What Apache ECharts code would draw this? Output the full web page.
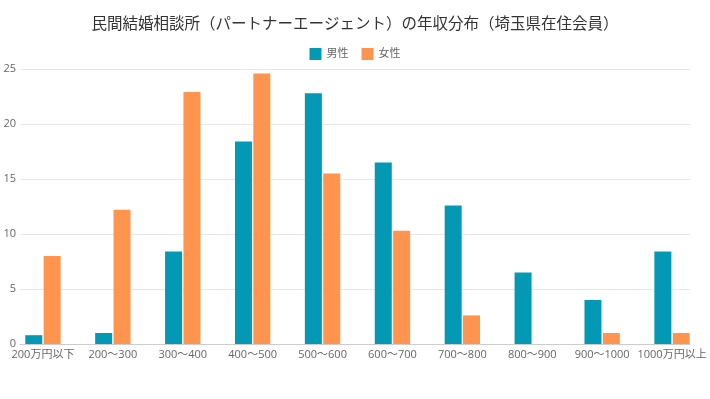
<!DOCTYPE html>
<html>
<head>
<meta charset="utf-8">
<script src="https://cdn.jsdelivr.net/npm/echarts@6/dist/echarts.min.js"></script>
<style>
  html, body { margin: 0; padding: 0; background: #fff; }
  #chart { width: 710px; height: 399px; }
</style>
</head>
<body>
<div id="chart"></div>
<script>
const categories = ["200万円以下", "200〜300", "300〜400", "400〜500", "500〜600", "600〜700", "700〜800", "800〜900", "900〜1000", "1000万円以上"];
const maleValues = [0.8, 1.0, 8.4, 18.4, 22.8, 16.5, 12.6, 6.5, 4.0, 8.4];
const femaleValues = [8.0, 12.2, 22.9, 24.6, 15.5, 10.3, 2.6, 0, 1.0, 1.0];
const yTicks = [0, 5, 10, 15, 20, 25];

const fontFamily = '"Open Sans", "Noto Sans CJK JP", sans-serif';

var myChart = echarts.init(document.getElementById("chart"));
// grid 0 carries the gridlines / y labels / baseline, grid 1 carries the bars
// (the bars in the original sit a bit wider than the gridlines)
var option = {
  textStyle: { fontFamily: fontFamily },
  title: {
    text: "民間結婚相談所（パートナーエージェント）の年収分布（埼玉県在住会員）",
    left: "center",
    top: 12,
    textStyle: { fontSize: 15.5, fontWeight: "normal", color: "#333", fontFamily: fontFamily },
  },
  legend: {
    top: 43,
    left: "center",
    itemWidth: 12,
    itemHeight: 12,
    itemGap: 13,
    icon: "rect",
    textStyle: { fontSize: 11, color: "#666", fontFamily: fontFamily },
  },
  grid: [
    { left: 20, right: 20, top: 69, bottom: 55 },
    { left: 8, right: 3, top: 69, bottom: 55 },
  ],
  xAxis: [
    {
      type: "category",
      gridIndex: 0,
      data: categories,
      axisLine: { lineStyle: { color: "#ccc" } },
      axisTick: { show: false },
      axisLabel: { show: false },
    },
    {
      type: "category",
      gridIndex: 1,
      data: categories,
      axisLine: { show: false },
      axisTick: { show: false },
      axisLabel: { interval: 0, color: "#666", fontSize: 11, margin: 5 },
    },
  ],
  yAxis: [
    {
      type: "value",
      gridIndex: 0,
      min: yTicks[0],
      max: yTicks[yTicks.length - 1],
      interval: 5,
      axisLine: { show: false },
      axisTick: { show: false },
      axisLabel: { color: "#666", fontSize: 11, margin: 4 },
      splitLine: { lineStyle: { color: "#e8e8e8" } },
    },
    {
      type: "value",
      gridIndex: 1,
      min: yTicks[0],
      max: yTicks[yTicks.length - 1],
      interval: 5,
      show: false,
    },
  ],
  series: [
    {
      name: "男性",
      type: "bar",
      xAxisIndex: 1,
      yAxisIndex: 1,
      data: maleValues,
      barWidth: 17,
      barGap: "8%",
      itemStyle: { color: "#0399b4" },
    },
    {
      name: "女性",
      type: "bar",
      xAxisIndex: 1,
      yAxisIndex: 1,
      data: femaleValues,
      barWidth: 17,
      barGap: "8%",
      itemStyle: { color: "#ff944f" },
    },
  ],
};
myChart.setOption(option);
</script>
</body>
</html>
